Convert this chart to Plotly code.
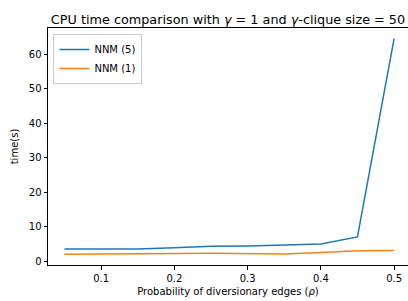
import plotly.graph_objects as go

rho = [0.05, 0.1, 0.15, 0.2, 0.25, 0.3, 0.35, 0.4, 0.45, 0.5]
nnm5 = [3.5, 3.6, 3.5, 3.9, 4.3, 4.4, 4.7, 5.0, 7.0, 64.5]
nnm1 = [2.0, 2.0, 2.0, 2.2, 2.3, 2.2, 2.1, 2.5, 3.0, 3.1]
xticks = [0.1, 0.2, 0.3, 0.4, 0.5]
yticks = [0, 10, 20, 30, 40, 50, 60]

font = "DejaVu Sans"
fig = go.Figure()
fig.add_trace(go.Scatter(x=rho, y=nnm5, mode="lines", name="NNM (5)",
                         line=dict(color="#1f77b4", width=1.5)))
fig.add_trace(go.Scatter(x=rho, y=nnm1, mode="lines", name="NNM (1)",
                         line=dict(color="#ff7f0e", width=1.5)))

axis_common = dict(showline=True, linecolor="black", linewidth=1, mirror=True,
                   ticks="outside", ticklen=3.5, tickcolor="black", tickwidth=1,
                   showgrid=False, zeroline=False, automargin=False,
                   tickfont=dict(family=font, size=10, color="black"))

fig.update_layout(
    width=408, height=301,
    margin=dict(l=48, r=0, t=28, b=36, autoexpand=False),
    paper_bgcolor="white", plot_bgcolor="white",
    font=dict(family=font, color="black"),
    title=dict(text="CPU time comparison with <i>γ</i> = 1 and <i>γ</i>-clique size = 50",
               x=0.5, xref="paper", y=1, yref="paper", yanchor="bottom", pad=dict(b=4),
               automargin=False,
               font=dict(family=font, size=12.8, color="black")),
    xaxis=dict(range=[0.0275, 0.519], tickvals=xticks,
               ticktext=[str(t) for t in xticks],
               title=dict(text="Probability of diversionary edges (<i>ρ</i>)",
                          font=dict(family=font, size=10), standoff=5),
               **axis_common),
    yaxis=dict(range=[-1.125, 67.6], tickvals=yticks,
               title=dict(text="time(s)", font=dict(family=font, size=10), standoff=8),
               **axis_common),
    legend=dict(x=0.015, y=0.975, xanchor="left", yanchor="top",
                bgcolor="rgba(255,255,255,0.8)", bordercolor="#cccccc", borderwidth=1,
                font=dict(family=font, size=10, color="black"),
                itemwidth=30, tracegroupgap=0),
    showlegend=True,
)

fig.write_html("out.html", config={"displayModeBar": False},
               post_script="document.body.style.margin='0';document.body.style.overflow='hidden';")
